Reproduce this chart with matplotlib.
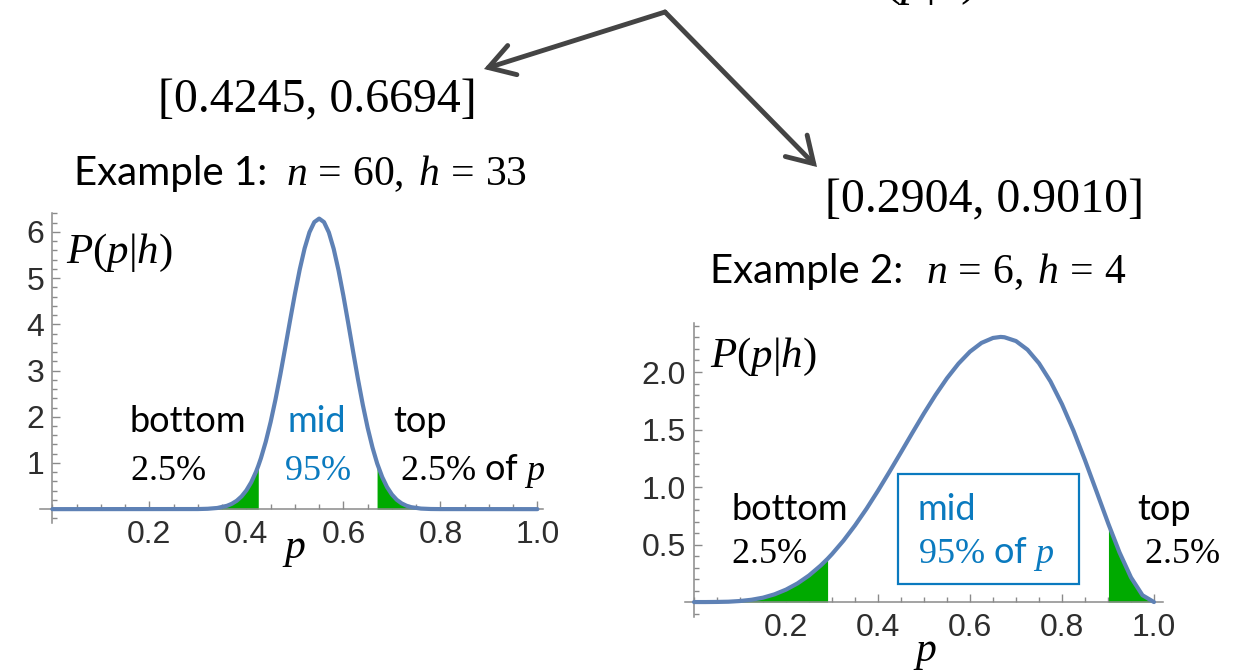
import matplotlib
matplotlib.use("Agg")
import matplotlib.pyplot as plt
from matplotlib.ticker import MultipleLocator
from matplotlib.patches import FancyArrowPatch, Rectangle

W, H = 1239, 670

# serif maths, as in the reference
plt.rcParams["mathtext.fontset"] = "custom"
plt.rcParams["mathtext.rm"] = "Liberation Serif"
plt.rcParams["mathtext.it"] = "Liberation Serif:italic"
plt.rcParams["mathtext.bf"] = "Liberation Serif:bold"

# Example 1: posterior density
n1, h1 = 60, 33
p1 = [0.0, 0.30, 0.32, 0.34, 0.36, 0.37, 0.38, 0.39, 0.40, 0.41, 0.42, 0.4245,
      0.43, 0.44, 0.45, 0.46, 0.47, 0.48, 0.49, 0.50, 0.51, 0.52, 0.53, 0.54,
      0.55, 0.56, 0.57, 0.58, 0.59, 0.60, 0.61, 0.62, 0.63, 0.64, 0.65, 0.66,
      0.6694, 0.67, 0.68, 0.69, 0.70, 0.71, 0.72, 0.73, 0.74, 0.76, 0.78, 0.80, 1.0]
dens1 = [0.0, 0.002, 0.008, 0.025, 0.072, 0.116, 0.181, 0.275, 0.406, 0.582,
         0.812, 0.936, 1.104, 1.462, 1.887, 2.374, 2.914, 3.491, 4.081, 4.657,
         5.188, 5.643, 5.993, 6.213, 6.289, 6.213, 5.990, 5.633, 5.166, 4.618,
         4.023, 3.412, 2.816, 2.259, 1.761, 1.333, 0.997, 0.978, 0.695, 0.477,
         0.317, 0.202, 0.125, 0.074, 0.042, 0.012, 0.003, 0.001, 0.0]
ci1 = [0.4245, 0.6694]

# Example 2: posterior density
n2, h2 = 6, 4
p2 = [0.0, 0.025, 0.05, 0.075, 0.10, 0.125, 0.15, 0.175, 0.20, 0.225, 0.25,
      0.275, 0.2904, 0.30, 0.325, 0.35, 0.375, 0.40, 0.425, 0.45, 0.475, 0.50,
      0.525, 0.55, 0.575, 0.60, 0.625, 0.65, 0.6667, 0.675, 0.70, 0.725, 0.75,
      0.775, 0.80, 0.825, 0.85, 0.875, 0.90, 0.9010, 0.925, 0.95, 0.975, 1.0]
dens2 = [0.0, 0.000, 0.001, 0.003, 0.009, 0.020, 0.038, 0.067, 0.108, 0.162,
         0.231, 0.316, 0.376, 0.417, 0.534, 0.666, 0.811, 0.968, 1.133, 1.302,
         1.473, 1.641, 1.800, 1.946, 2.073, 2.177, 2.253, 2.296, 2.305, 2.302,
         2.269, 2.194, 2.076, 1.918, 1.720, 1.490, 1.233, 0.962, 0.689, 0.678,
         0.432, 0.214, 0.059, 0.0]
ci2 = [0.2904, 0.9010]

xticks = [0.2, 0.4, 0.6, 0.8, 1.0]
xlabels = ["0.2", "0.4", "0.6", "0.8", "1.0"]
yticks1 = [1, 2, 3, 4, 5, 6]
ylabels1 = ["1", "2", "3", "4", "5", "6"]
yticks2 = [0.5, 1.0, 1.5, 2.0]
ylabels2 = ["0.5", "1.0", "1.5", "2.0"]

CURVE = "#5e81b5"
GREEN = "#00aa00"
BLUE = "#0a7abf"
ARROW = "#444444"

fig = plt.figure(figsize=(W / 100, H / 100), dpi=100)


def fxy(x, y):
    # pixel position (from top-left) -> figure fraction
    return x / W, 1 - y / H


def put(x, y, s, size, color="black", family="Lato"):
    fig.text(*fxy(x, y), s, fontsize=size, color=color, family=family,
             ha="left", va="baseline")


def panel(box, xlim, ylim, p, dens, ci, yticks, ylabels, yminor):
    left, top, right, bottom = box
    ax = fig.add_axes([left / W, 1 - bottom / H, (right - left) / W, (bottom - top) / H])
    ax.patch.set_visible(False)
    ax.set_xlim(*xlim)
    ax.set_ylim(*ylim)
    for side in ("top", "right"):
        ax.spines[side].set_visible(False)
    for side in ("left", "bottom"):
        ax.spines[side].set_position(("data", 0))
        ax.spines[side].set_color("#8a8a8a")
        ax.spines[side].set_linewidth(1.1)

    lo, hi = ci
    ax.fill_between(p, dens, 0, where=[v <= lo for v in p], color=GREEN, lw=0, zorder=2)
    ax.fill_between(p, dens, 0, where=[v >= hi for v in p], color=GREEN, lw=0, zorder=2)
    ax.plot(p, dens, color=CURVE, lw=3, zorder=3, solid_capstyle="round")

    ax.set_xticks(xticks, xlabels)
    ax.set_yticks(yticks, ylabels)
    ax.xaxis.set_minor_locator(MultipleLocator(0.05))
    ax.yaxis.set_minor_locator(MultipleLocator(yminor))
    ax.tick_params(which="both", direction="in", color="#8a8a8a", width=1,
                   labelcolor="#2e2e2e", labelsize=23, labelfontfamily="Liberation Sans")
    ax.tick_params(which="major", length=6)
    ax.tick_params(which="minor", length=3.5)
    ax.tick_params(axis="x", pad=8)
    ax.tick_params(axis="y", pad=6)
    return ax


panel((40, 213, 543, 523), (-0.0255, 1.0115), (-0.30, 6.41),
      p1, dens1, ci1, yticks1, ylabels1, 0.2)
panel((685, 323, 1163, 617), (-0.0196, 1.0196), (-0.13, 2.426),
      p2, dens2, ci2, yticks2, ylabels2, 0.1)

# labels inside panel 1
put(66, 263, r"$P(p|h)$", 31)
put(130, 432, "bottom", 26)
put(130, 480, r"$2.5\%$", 26)
put(288, 432, "mid", 26, BLUE)
put(284, 480, r"$95\%$", 26, BLUE)
put(393, 432, "top", 26)
put(400, 480, r"$2.5\%$ of $p$", 26)
put(282, 558, r"$p$", 30)

# labels inside panel 2
put(710, 367, r"$P(p|h)$", 31)
put(732, 520, "bottom", 26)
put(731, 563, r"$2.5\%$", 26)
put(918, 520, "mid", 26, BLUE)
put(918, 563, r"$95\%$ of $p$", 26, BLUE)
put(1137, 520, "top", 26)
put(1144, 563, r"$2.5\%$", 26)
put(913, 661, r"$p$", 30)
x0, y0 = fxy(898, 584)
x1, y1 = fxy(1079, 474)
fig.add_artist(Rectangle((x0, y0), x1 - x0, y1 - y0, transform=fig.transFigure,
                         fill=False, edgecolor=BLUE, lw=1.6))

# titles and intervals
put(74, 185, "Example 1:", 29)
put(286, 185, rf"$n\,=\,{n1},\;h\,=\,{h1}$", 30)
put(710, 283, "Example 2:", 29)
put(926, 283, rf"$n\,=\,{n2},\;h\,=\,{h2}$", 30)
put(158, 112, f"[{ci1[0]:.4f}, {ci1[1]:.4f}]", 34.5, family="Liberation Serif")
put(825, 212, f"[{ci2[0]:.4f}, {ci2[1]:.4f}]", 34.5, family="Liberation Serif")

# the cut-off heading at the top edge
put(853, -6, r"$P(p|h)$", 36)

# arrows from the top split point
apex = fxy(665, 12)
for tip in [(484, 69), (817, 167)]:
    fig.add_artist(FancyArrowPatch(apex, fxy(*tip), transform=fig.transFigure,
                                   arrowstyle="->,head_length=18,head_width=11",
                                   mutation_scale=1, lw=3.5, color=ARROW,
                                   shrinkA=0, shrinkB=0, capstyle="round",
                                   joinstyle="miter"))

fig.savefig("out.png", dpi=100)
